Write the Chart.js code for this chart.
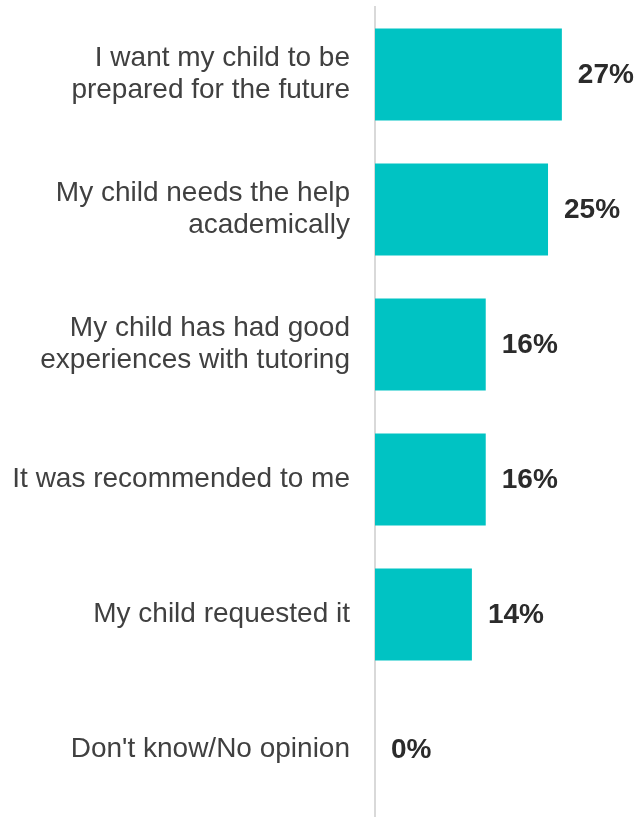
<!DOCTYPE html>
<html>
<head>
<meta charset="utf-8">
<script src="https://cdn.jsdelivr.net/npm/chart.js@4"></script>
<style>
  html, body { margin: 0; padding: 0; background: #ffffff; }
  #wrap { width: 638px; height: 817px; position: relative; }
</style>
</head>
<body>
<div id="wrap"><canvas id="chart"></canvas></div>
<script>
// Reasons given for choosing tutoring (share of respondents, %)
const categories = [
  ["I want my child to be", "prepared for the future"],
  ["My child needs the help", "academically"],
  ["My child has had good", "experiences with tutoring"],
  "It was recommended to me",
  "My child requested it",
  "Don't know/No opinion"
];
const shares = [27, 25, 16, 16, 14, 0];

// Bold percentage next to the end of each bar
const valueLabels = {
  id: 'valueLabels',
  afterDatasetsDraw(chart) {
    const ctx = chart.ctx;
    const meta = chart.getDatasetMeta(0);
    ctx.save();
    ctx.font = 'bold 28px "Liberation Sans", Arial, sans-serif';
    ctx.fillStyle = '#2b2b2b';
    ctx.textAlign = 'left';
    ctx.textBaseline = 'middle';
    meta.data.forEach((bar, i) => {
      ctx.fillText(shares[i] + '%', bar.x + 16, bar.y + 1);
    });
    ctx.restore();
  }
};

new Chart(document.getElementById('chart'), {
  type: 'bar',
  data: {
    labels: categories,
    datasets: [{
      data: shares,
      backgroundColor: '#00C3C3',
      borderWidth: 0,
      barPercentage: 0.68,
      categoryPercentage: 1
    }]
  },
  options: {
    indexAxis: 'y',
    responsive: true,
    maintainAspectRatio: false,
    animation: false,
    layout: { padding: { top: 7, right: 0, bottom: 0, left: 0 } },
    plugins: {
      legend: { display: false },
      tooltip: { enabled: false }
    },
    scales: {
      x: {
        display: false,
        min: 0,
        max: 38
      },
      y: {
        afterFit(scale) {
          scale.width = 375;
          scale.paddingTop = 0;
          scale.paddingBottom = 0;
        },
        grid: { display: false, drawTicks: false },
        border: { display: true, color: '#d9d9d9', width: 2 },
        ticks: {
          padding: 25,
          color: '#404040',
          font: { family: '"Liberation Sans", Arial, sans-serif', size: 28, lineHeight: 1.13 }
        }
      }
    }
  },
  plugins: [valueLabels]
});
</script>
</body>
</html>
